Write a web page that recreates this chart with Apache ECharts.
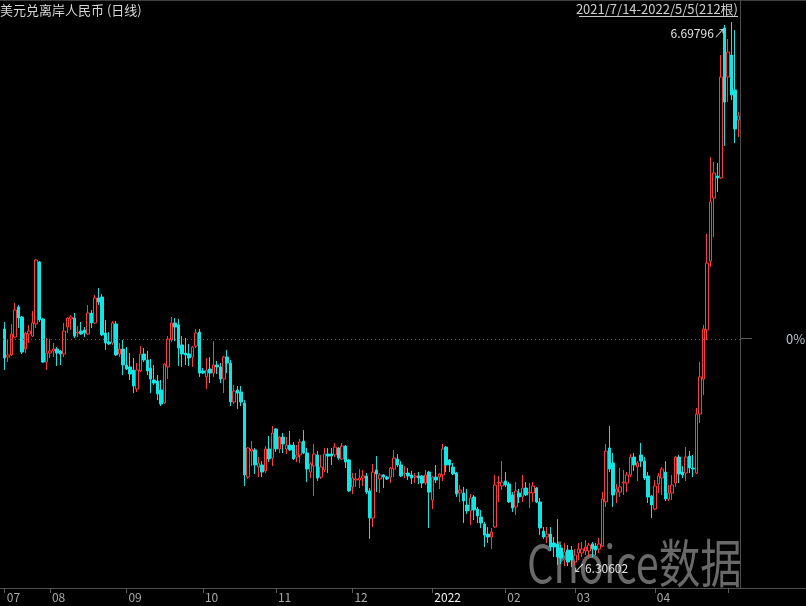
<!DOCTYPE html>
<html><head><meta charset="utf-8">
<script src="https://cdn.jsdelivr.net/npm/echarts@6/dist/echarts.min.js"></script>
<style>html,body{margin:0;padding:0;background:#000;}#c{width:806px;height:606px;}</style>
</head><body><div id="c"></div>
<script>
const dates = [
'2021/7/14','2021/7/15','2021/7/16','2021/7/19','2021/7/20','2021/7/21','2021/7/22','2021/7/23','2021/7/26','2021/7/27','2021/7/28','2021/7/29','2021/7/30',
'2021/8/2','2021/8/3','2021/8/4','2021/8/5','2021/8/6','2021/8/9','2021/8/10','2021/8/11','2021/8/12','2021/8/13','2021/8/16','2021/8/17','2021/8/18','2021/8/19','2021/8/20','2021/8/23','2021/8/24','2021/8/25','2021/8/26','2021/8/27','2021/8/30','2021/8/31',
'2021/9/1','2021/9/2','2021/9/3','2021/9/6','2021/9/7','2021/9/8','2021/9/9','2021/9/10','2021/9/13','2021/9/14','2021/9/15','2021/9/16','2021/9/17','2021/9/20','2021/9/21','2021/9/22','2021/9/23','2021/9/24','2021/9/27','2021/9/28','2021/9/29','2021/9/30',
'2021/10/1','2021/10/4','2021/10/5','2021/10/6','2021/10/7','2021/10/8','2021/10/11','2021/10/12','2021/10/13','2021/10/14','2021/10/15','2021/10/18','2021/10/19','2021/10/20','2021/10/21','2021/10/22','2021/10/25','2021/10/26','2021/10/27','2021/10/28','2021/10/29',
'2021/11/1','2021/11/2','2021/11/3','2021/11/4','2021/11/5','2021/11/8','2021/11/9','2021/11/10','2021/11/11','2021/11/12','2021/11/15','2021/11/16','2021/11/17','2021/11/18','2021/11/19','2021/11/22','2021/11/23','2021/11/24','2021/11/25','2021/11/26','2021/11/29','2021/11/30',
'2021/12/1','2021/12/2','2021/12/3','2021/12/6','2021/12/7','2021/12/8','2021/12/9','2021/12/10','2021/12/13','2021/12/14','2021/12/15','2021/12/16','2021/12/17','2021/12/20','2021/12/21','2021/12/22','2021/12/23','2021/12/24','2021/12/27','2021/12/28','2021/12/29','2021/12/30','2021/12/31',
'2022/1/3','2022/1/4','2022/1/5','2022/1/6','2022/1/7','2022/1/10','2022/1/11','2022/1/12','2022/1/13','2022/1/14','2022/1/17','2022/1/18','2022/1/19','2022/1/20','2022/1/21','2022/1/24','2022/1/25','2022/1/26','2022/1/27','2022/1/28','2022/1/31',
'2022/2/1','2022/2/2','2022/2/3','2022/2/4','2022/2/7','2022/2/8','2022/2/9','2022/2/10','2022/2/11','2022/2/14','2022/2/15','2022/2/16','2022/2/17','2022/2/18','2022/2/21','2022/2/22','2022/2/23','2022/2/24','2022/2/25','2022/2/28',
'2022/3/1','2022/3/2','2022/3/3','2022/3/4','2022/3/7','2022/3/8','2022/3/9','2022/3/10','2022/3/11','2022/3/14','2022/3/15','2022/3/16','2022/3/17','2022/3/18','2022/3/21','2022/3/22','2022/3/23','2022/3/24','2022/3/25','2022/3/28','2022/3/29','2022/3/30','2022/3/31',
'2022/4/1','2022/4/4','2022/4/5','2022/4/6','2022/4/7','2022/4/8','2022/4/11','2022/4/12','2022/4/13','2022/4/14','2022/4/15','2022/4/18','2022/4/19','2022/4/20','2022/4/21','2022/4/22','2022/4/25','2022/4/26','2022/4/27','2022/4/28','2022/4/29',
'2022/5/2','2022/5/3','2022/5/4','2022/5/5'
];
const opens = [
6.4772,6.4570,6.4585,6.4714,6.4930,6.4858,6.4628,6.4736,6.4721,6.4808,
6.5254,6.4844,6.4534,6.4599,6.4614,6.4628,6.4614,6.4592,6.4786,6.4844,
6.4851,6.4743,6.4757,6.4765,6.4736,6.4887,6.4815,6.4995,6.5002,6.4743,
6.4678,6.4671,6.4808,6.4592,6.4628,6.4513,6.4499,6.4477,6.4340,6.4470,
6.4592,6.4549,6.4491,6.4405,6.4398,6.4333,6.4240,6.4499,6.4693,6.4815,
6.4801,6.4657,6.4599,6.4592,6.4570,6.4649,6.4750,6.4470,6.4427,6.4484,
6.4455,6.4513,6.4499,6.4412,6.4570,6.4527,6.4247,6.4333,6.4319,6.4240,
6.3707,6.3894,6.3902,6.3779,6.3794,6.3751,6.3909,6.3844,6.4053,6.3909,
6.3995,6.3909,6.3937,6.3937,6.3851,6.3866,6.3966,6.3880,6.3743,6.3786,
6.3866,6.3707,6.3758,6.3873,6.3873,6.3866,6.3916,6.3837,6.3930,6.3830,
6.3636,6.3686,6.3686,6.3700,6.3715,6.3607,6.3413,6.3758,6.3693,6.3722,
6.3707,6.3707,6.3765,6.3837,6.3794,6.3729,6.3736,6.3722,6.3707,6.3715,
6.3715,6.3664,6.3743,6.3542,6.3707,6.3707,6.3722,6.3923,6.3830,6.3779,
6.3736,6.3592,6.3592,6.3506,6.3463,6.3564,6.3477,6.3420,6.3369,6.3297,
6.3276,6.3348,6.3664,6.3643,6.3679,6.3657,6.3578,6.3492,6.3592,6.3564,
6.3628,6.3592,6.3592,6.3628,6.3528,6.3319,6.3276,6.3297,6.3233,6.3226,
6.3197,6.3110,6.3182,6.3182,6.3096,6.3161,6.3161,6.3175,6.3175,6.3226,
6.3211,6.3190,6.3211,6.3528,6.3916,6.3808,6.3599,6.3599,6.3664,6.3664,
6.3722,6.3851,6.3779,6.3866,6.3822,6.3715,6.3571,6.3477,6.3657,6.3700,
6.3743,6.3549,6.3592,6.3664,6.3851,6.3743,6.3736,6.3858,6.3772,6.3736,
6.4160,6.4412,6.4765,6.5261,6.5714,6.5872,6.5858,6.6937,6.6584,6.6742,
6.6491,6.6275
];
const closes = [
6.4563,6.4585,6.4736,6.4908,6.4851,6.4606,6.4743,6.4757,6.4815,6.5268,
6.4837,6.4534,6.4599,6.4614,6.4628,6.4599,6.4592,6.4757,6.4851,6.4858,
6.4721,6.4750,6.4736,6.4743,6.4887,6.4815,6.4995,6.4966,6.4729,6.4671,
6.4664,6.4815,6.4585,6.4628,6.4513,6.4484,6.4448,6.4362,6.4477,6.4592,
6.4549,6.4470,6.4412,6.4383,6.4304,6.4232,6.4520,6.4700,6.4815,6.4786,
6.4635,6.4592,6.4585,6.4563,6.4642,6.4743,6.4455,6.4455,6.4477,6.4455,
6.4513,6.4499,6.4412,6.4570,6.4527,6.4247,6.4326,6.4311,6.4247,6.3722,
6.3916,6.3909,6.3794,6.3808,6.3743,6.3909,6.3837,6.4024,6.3909,6.3995,
6.3945,6.3937,6.3902,6.3837,6.3866,6.3959,6.3880,6.3765,6.3801,6.3873,
6.3700,6.3779,6.3873,6.3858,6.3858,6.3923,6.3844,6.3930,6.3815,6.3607,
6.3700,6.3693,6.3700,6.3715,6.3599,6.3413,6.3743,6.3729,6.3722,6.3707,
6.3693,6.3772,6.3844,6.3794,6.3715,6.3736,6.3715,6.3700,6.3715,6.3700,
6.3664,6.3722,6.3599,6.3707,6.3686,6.3729,6.3909,6.3794,6.3794,6.3729,
6.3585,6.3614,6.3535,6.3463,6.3556,6.3470,6.3427,6.3377,6.3290,6.3276,
6.3312,6.3650,6.3671,6.3671,6.3650,6.3528,6.3484,6.3607,6.3564,6.3628,
6.3578,6.3599,6.3643,6.3528,6.3341,6.3276,6.3297,6.3204,6.3204,6.3132,
6.3125,6.3168,6.3096,6.3110,6.3146,6.3190,6.3190,6.3204,6.3218,6.3190,
6.3182,6.3226,6.3549,6.3894,6.3765,6.3578,6.3621,6.3636,6.3671,6.3722,
6.3851,6.3794,6.3808,6.3822,6.3700,6.3564,6.3506,6.3643,6.3715,6.3765,
6.3549,6.3592,6.3650,6.3851,6.3729,6.3722,6.3851,6.3772,6.3765,6.4160,
6.4427,6.4772,6.5246,6.5685,6.5894,6.5858,6.6584,6.6404,6.6764,6.6455,
6.6210,6.6304
];
const lows = [
6.4477,6.4534,6.4578,6.4707,6.4779,6.4592,6.4599,6.4671,6.4714,6.4779,
6.4822,6.4527,6.4477,6.4563,6.4570,6.4506,6.4513,6.4570,6.4743,6.4765,
6.4707,6.4714,6.4729,6.4714,6.4729,6.4779,6.4808,6.4944,6.4721,6.4621,
6.4657,6.4657,6.4578,6.4570,6.4441,6.4477,6.4405,6.4311,6.4319,6.4463,
6.4534,6.4441,6.4311,6.4369,6.4261,6.4218,6.4232,6.4412,6.4678,6.4685,
6.4506,6.4499,6.4513,6.4506,6.4499,6.4635,6.4427,6.4448,6.4340,6.4383,
6.4427,6.4448,6.4383,6.4311,6.4455,6.4218,6.4232,6.4196,6.4218,6.3643,
6.3693,6.3786,6.3729,6.3707,6.3707,6.3736,6.3815,6.3786,6.3887,6.3880,
6.3880,6.3873,6.3894,6.3830,6.3815,6.3808,6.3873,6.3671,6.3700,6.3571,
6.3679,6.3693,6.3743,6.3736,6.3794,6.3851,6.3830,6.3830,6.3772,6.3599,
6.3585,6.3636,6.3628,6.3643,6.3585,6.3262,6.3348,6.3599,6.3592,6.3628,
6.3686,6.3664,6.3707,6.3779,6.3707,6.3700,6.3686,6.3657,6.3664,6.3657,
6.3628,6.3650,6.3341,6.3477,6.3664,6.3621,6.3679,6.3743,6.3743,6.3722,
6.3564,6.3528,6.3377,6.3441,6.3362,6.3398,6.3377,6.3341,6.3204,6.3233,
6.3190,6.3341,6.3528,6.3614,6.3636,6.3520,6.3456,6.3434,6.3520,6.3528,
6.3571,6.3484,6.3528,6.3520,6.3290,6.3262,6.3233,6.3175,6.3132,6.3074,
6.3082,6.3067,6.3067,6.30602,6.3074,6.3110,6.3132,6.3146,6.3132,6.3132,
6.3146,6.3161,6.3204,6.3492,6.3743,6.3492,6.3520,6.3564,6.3578,6.3599,
6.3707,6.3751,6.3679,6.3779,6.3686,6.3520,6.3413,6.3470,6.3592,6.3578,
6.3535,6.3535,6.3542,6.3636,6.3664,6.3700,6.3679,6.3736,6.3707,6.3729,
6.4096,6.4297,6.4693,6.5218,6.5433,6.5757,6.5851,6.6088,6.6404,6.6419,
6.6109,6.6153
];
const highs = [
6.4822,6.4693,6.4808,6.4959,6.4944,6.4865,6.4750,6.4801,6.4901,6.5275,
6.5261,6.4851,6.4707,6.4700,6.4671,6.4642,6.4621,6.4815,6.4858,6.4872,
6.4887,6.4793,6.4822,6.4786,6.4944,6.4908,6.5016,6.5067,6.5023,6.4837,
6.4750,6.4829,6.4829,6.4671,6.4693,6.4642,6.4599,6.4563,6.4527,6.4649,
6.4635,6.4614,6.4556,6.4513,6.4441,6.4405,6.4527,6.4721,6.4858,6.4851,
6.4844,6.4721,6.4707,6.4664,6.4649,6.4772,6.4772,6.4491,6.4563,6.4570,
6.4685,6.4542,6.4527,6.4578,6.4621,6.4549,6.4369,6.4362,6.4362,6.4261,
6.3923,6.3966,6.3916,6.3851,6.3822,6.3930,6.4002,6.4074,6.4060,6.4002,
6.4024,6.3995,6.4038,6.3959,6.3937,6.3981,6.4045,6.3916,6.3815,6.3945,
6.3894,6.3866,6.3916,6.3916,6.3916,6.3952,6.3923,6.3952,6.3937,6.3837,
6.3736,6.3736,6.3765,6.3758,6.3736,6.3628,6.3801,6.3858,6.3736,6.3729,
6.3715,6.3779,6.3902,6.3873,6.3822,6.3786,6.3772,6.3751,6.3736,6.3743,
6.3722,6.3758,6.3751,6.3715,6.3794,6.3736,6.3945,6.3930,6.3837,6.3808,
6.3743,6.3650,6.3636,6.3621,6.3585,6.3578,6.3492,6.3470,6.3384,6.3348,
6.3341,6.3722,6.3715,6.3822,6.3743,6.3671,6.3599,6.3671,6.3621,6.3722,
6.3671,6.3664,6.3671,6.3636,6.3556,6.3348,6.3348,6.3348,6.3276,6.3405,
6.3218,6.3233,6.3218,6.3211,6.3190,6.3233,6.3240,6.3254,6.3233,6.3240,
6.3233,6.3269,6.3599,6.3945,6.4074,6.3880,6.3657,6.3772,6.3758,6.3743,
6.3873,6.3880,6.3822,6.3952,6.3851,6.3743,6.3578,6.3686,6.3736,6.3779,
6.3822,6.3650,6.3722,6.3858,6.3866,6.3786,6.3923,6.3894,6.3866,6.4204,
6.4534,6.4801,6.5455,6.6009,6.5973,6.5966,6.6742,6.6958,6.6857,6.69796,
6.6922,6.6332
];
const refClose = 6.4707;                 // 0% baseline (previous close)
const monthLabels = ['07','08','09','10','11','12','2022','02','03','04',''];
const titleText = '美元兑离岸人民币 (日线)';

const FONT = '"Noto Sans CJK SC","Noto Sans",sans-serif';
const ohlc = dates.map((d, i) => [opens[i], closes[i], lows[i], highs[i]]);
const monthStarts = [];
dates.forEach((d, i) => {
  if (i === 0 || d.split('/')[1] !== dates[i - 1].split('/')[1]) monthStarts.push(i);
});
const rangeText = dates[0] + '-' + dates[dates.length - 1] + '(' + dates.length + '根)';

const chart = echarts.init(document.getElementById('c'), null, {renderer: 'canvas'});
chart.setOption({
  backgroundColor: '#000000',
  animation: false,
  textStyle: {fontFamily: FONT},
  title: [
    {text: titleText, left: 0, top: 4, padding: 0,
     textStyle: {color: '#d6d6d6', fontSize: 13, fontWeight: 'normal', fontFamily: FONT}},
    {text: rangeText, right: 68, top: 3, padding: 0,
     textStyle: {color: '#cfcfcf', fontSize: 13, fontWeight: 'normal', fontFamily: FONT}}
  ],
  grid: {left: 3, right: 66, top: 2, bottom: 18},
  xAxis: {
    type: 'category', data: dates, boundaryGap: true,
    axisLine: {show: false},
    axisTick: {show: true, alignWithLabel: true, length: 5,
      interval: (i) => monthStarts.indexOf(i) >= 0,
      lineStyle: {color: '#5a5a5a'}},
    axisLabel: {
      interval: (i) => { const k = monthStarts.indexOf(i); return k >= 0 && monthLabels[k] !== ''; },
      formatter: (v, i) => { const k = monthStarts.indexOf(i); if (k < 0) return ''; return k === 6 ? '{y|' + monthLabels[k] + '}' : monthLabels[k]; },
      align: 'left', margin: 3, padding: [0, 0, 0, 2],
      color: '#a9a9a9', fontSize: 12, fontFamily: FONT,
      rich: {y: {color: '#f0f0f0', fontSize: 12, fontFamily: FONT}}
    },
    splitLine: {show: false}
  },
  yAxis: {type: 'value', min: 6.29092, max: 6.71235, show: false, splitLine: {show: false}},
  series: [{
    type: 'candlestick',
    data: ohlc,
    barWidth: 3,
    itemStyle: {color: 'rgba(0,0,0,0)', color0: '#14e4e4', borderColor: '#ff3c3c', borderColor0: '#14e4e4', borderWidth: 1},
    markLine: {
      silent: true, symbol: ['none', 'none'], animation: false,
      data: [{yAxis: refClose}],
      lineStyle: {color: '#5a5a5a', type: [1, 3], width: 1},
      label: {show: true, position: 'end', formatter: '0%', color: '#b9c4cf', fontSize: 13, distance: 46, fontFamily: FONT}
    },
    markPoint: {
      symbol: 'circle', symbolSize: 1, silent: true, animation: false,
      itemStyle: {color: 'rgba(0,0,0,0)'},
      data: [
        {type: 'max', valueDim: 'highest',
         label: {position: 'left', distance: 5, offset: [0, 11], formatter: (p) => p.value + '↗'}},
        {type: 'min', valueDim: 'lowest',
         label: {position: 'right', distance: 1, offset: [0, 1], formatter: (p) => '↙' + p.value}}
      ],
      label: {show: true, color: '#e2e2e2', fontSize: 12, fontFamily: FONT}
    }
  }]
});

const refY = Math.round(chart.convertToPixel({yAxisIndex: 0}, refClose)) + 0.5;
chart.setOption({
  graphic: [
    {type: 'text', left: 527, top: 537, z: -10, scaleX: 0.8,
     style: {text: 'Choice数据', fill: 'rgba(150,150,150,0.7)', font: '52px ' + FONT}},
    {type: 'line', shape: {x1: 0, y1: 0.5, x2: 806, y2: 0.5}, style: {stroke: '#3f3f3f', lineWidth: 1}},
    {type: 'line', shape: {x1: 0, y1: 588.5, x2: 806, y2: 588.5}, style: {stroke: '#505050', lineWidth: 1}},
    {type: 'line', shape: {x1: 740.5, y1: 0, x2: 740.5, y2: 588}, style: {stroke: '#4d4d4d', lineWidth: 1}},
    {type: 'line', shape: {x1: 741, y1: refY, x2: 752, y2: refY}, style: {stroke: '#5a5a5a', lineWidth: 1}},
    {type: 'line', shape: {x1: 579, y1: 16.5, x2: 738, y2: 16.5}, style: {stroke: '#c8c8c8', lineWidth: 1}}
  ]
});
</script>
</body></html>
